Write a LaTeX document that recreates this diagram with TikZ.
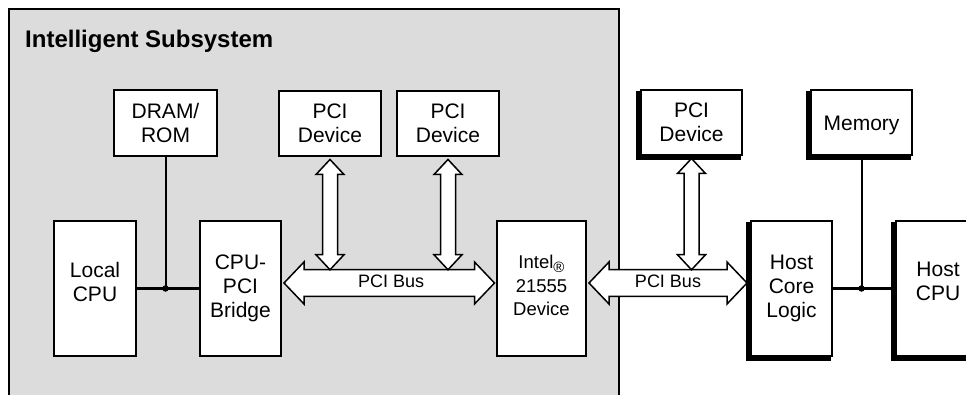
\documentclass[tikz,border=0pt]{standalone}
\usepackage{fontspec}
\setmainfont{Liberation Sans}
\usetikzlibrary{calc,backgrounds}
\definecolor{subsysgrey}{RGB}{220,220,220}

% wide double-headed bus arrow between two tips on one horizontal line
\newcommand\hfatarrow[2]{%
  \path[busarrow] let \p1=(#1), \p2=(#2) in
    (\x1,\y1) -- (\x1+20pt,\y1+21pt) -- (\x1+20pt,\y1+13.25pt)
    -- (\x2-20pt,\y1+13.25pt) -- (\x2-20pt,\y1+21pt) -- (\x2,\y1)
    -- (\x2-20pt,\y1-21pt) -- (\x2-20pt,\y1-13.25pt)
    -- (\x1+20pt,\y1-13.25pt) -- (\x1+20pt,\y1-21pt) -- cycle;}
% wide double-headed arrow between a top tip and a bottom tip
\newcommand\vfatarrow[2]{%
  \path[busarrow] let \p1=(#1), \p2=(#2) in
    (\x1,\y1) -- (\x1+14pt,\y1-15pt) -- (\x1+7.5pt,\y1-15pt)
    -- (\x1+7.5pt,\y2+15pt) -- (\x1+14pt,\y2+15pt) -- (\x1,\y2)
    -- (\x1-14pt,\y2+15pt) -- (\x1-7.5pt,\y2+15pt)
    -- (\x1-7.5pt,\y1-15pt) -- (\x1-14pt,\y1-15pt) -- cycle;}
% heavy lower-left edge behind a host-side box
\newcommand\heavyedge[1]{%
  \fill[black] ($(#1.north west)+(-4,2)$) rectangle ($(#1.south east)+(-2,4)$);}

\begin{document}
\begin{tikzpicture}[x=1pt,y=-1pt,
  boxframe/.style={draw=black,line width=2pt,fill=white,inner sep=0pt,
    align=center,font=\fontsize{21}{24}\selectfont},
  boxtext/.style={align=center,inner sep=0pt,font=\fontsize{21}{24}\selectfont},
  inteltext/.style={align=center,inner sep=0pt,font=\fontsize{18.5}{23.5}\selectfont},
  buslabel/.style={inner sep=0pt,font=\fontsize{18}{18}\selectfont},
  busarrow/.style={draw=black,fill=white,line width=1.5pt,line join=miter},
  wire/.style={draw=black,line width=2pt},
  junction/.style={circle,fill=black,inner sep=0pt,minimum size=6.5pt}
]
\useasboundingbox (0,0) rectangle (966,395);

% intelligent subsystem area
\draw[fill=subsysgrey,line width=2pt] (9,402) -- (9,9) -- (619,9) -- (619,402);
\node[anchor=base west,inner sep=0pt,font=\fontsize{24}{24}\selectfont\bfseries]
  (title) at (25,48) {Intelligent Subsystem};

% subsystem blocks
\node[boxframe,minimum width=103pt,minimum height=66pt] (dram) at (165.5,123) {DRAM/\\ROM};
\node[boxframe,minimum width=102pt,minimum height=65pt] (pci1) at (330,123.5) {PCI\\Device};
\node[boxframe,minimum width=102pt,minimum height=65pt] (pci2) at (448,123.5) {PCI\\Device};
\node[boxframe,minimum width=82pt,minimum height=135pt] (localcpu) at (95,288.5) {};
\node[boxtext] (localcpu-text) at ($(localcpu.center)+(0,-7)$) {Local\\CPU};
\node[boxframe,minimum width=81pt,minimum height=135pt] (bridge) at (240.5,288.5) {CPU-\\PCI\\Bridge};
\node[boxframe,minimum width=89pt,minimum height=135pt] (intel) at (541.5,288.5) {};
\node[inteltext] (intel-text) at ($(intel.center)+(0,-2.75)$)
  {Intel\smash{\raisebox{-4pt}{\fontsize{15}{15}\selectfont ®}}\\21555\\Device};

% host side blocks
\node[boxframe,minimum width=101pt,minimum height=65pt] (hpci) at (691.5,122.5) {PCI\\Device};
\node[boxframe,minimum width=101pt,minimum height=65pt] (memory) at (861.5,122.5) {};
\node[boxtext] (memory-text) at ($(memory.center)+(0,3.2)$) {Memory};
\node[boxframe,minimum width=81pt,minimum height=135pt] (hcl) at (791.5,288.5) {Host\\Core\\Logic};
\node[boxframe,minimum width=84pt,minimum height=135pt] (hcpu) at (938,288.5) {};
\node[boxtext] (hcpu-text) at ($(hcpu.center)+(0,-7)$) {Host\\CPU};

\begin{scope}[on background layer]
  \heavyedge{hpci}
  \heavyedge{memory}
  \heavyedge{hcl}
  \heavyedge{hcpu}
\end{scope}

% local processor bus
\coordinate (j1) at (dram.south |- localcpu.east);
\draw[wire] (localcpu.east) -- (bridge.west);
\draw[wire] (dram.south) -- (j1);
\node[junction] (j1dot) at (j1) {};

% host processor bus
\coordinate (j2) at (memory.south |- hcl.east);
\draw[wire] (hcl.east) -- (hcpu.west);
\draw[wire] (memory.south) -- (j2);
\node[junction] (j2dot) at (j2) {};

% PCI buses
\coordinate (bus1w) at ($(bridge.east)+(2,-5.5)$);
\coordinate (bus1e) at ($(intel.west)+(-1.5,-5.5)$);
\coordinate (bus2w) at ($(intel.east)+(2,-5.5)$);
\coordinate (bus2e) at ($(hcl.west)+(-3,-5.5)$);
\hfatarrow{bus1w}{bus1e}
\hfatarrow{bus2w}{bus2e}
\node[buslabel] (bus1label) at ($(bus1w)!0.5!(bus1e)+(2,-1.5)$) {PCI Bus};
\node[buslabel] (bus2label) at ($(bus2w)!0.5!(bus2e)+(0,-1.5)$) {PCI Bus};

% device links onto the buses
\coordinate (bus1top) at ($(bus1w)+(0,-13.25)$);
\coordinate (bus2top) at ($(bus2w)+(0,-13.25)$);
\coordinate (pci1tip) at ($(pci1.south)+(0,2.5)$);
\coordinate (pci2tip) at ($(pci2.south)+(0,2.5)$);
\coordinate (hpcitip) at ($(hpci.south)+(0,2.5)$);
\vfatarrow{pci1tip}{pci1.south |- bus1top}
\vfatarrow{pci2tip}{pci2.south |- bus1top}
\vfatarrow{hpcitip}{hpci.south |- bus2top}
\end{tikzpicture}
\end{document}
